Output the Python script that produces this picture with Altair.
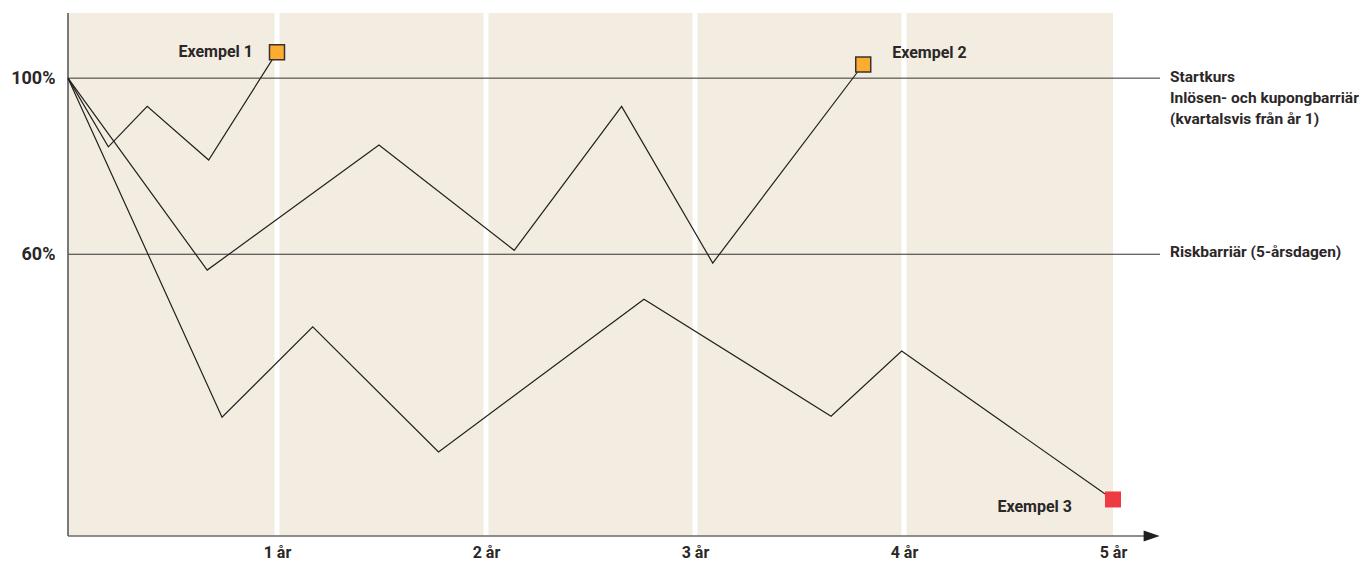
import altair as alt
import pandas as pd

# --- data -------------------------------------------------------------
ex1_t = [0.0, 0.193, 0.379, 0.673, 1.0]
ex1_v = [100.0, 84.4, 93.6, 81.4, 105.9]

ex2_t = [0.0, 0.666, 1.488, 2.135, 2.649, 3.085, 3.805]
ex2_v = [100.0, 56.4, 84.8, 60.9, 93.6, 58.0, 103.1]

ex3_t = [0.0, 0.737, 1.171, 1.773, 2.756, 3.651, 3.989, 5.0]
ex3_v = [100.0, 23.0, 43.5, 15.1, 49.8, 23.2, 38.0, 4.3]

years = [1, 2, 3, 4, 5]
barrier_levels = [100, 60]
y_tick_values = [60, 100]

X_MIN, X_MAX = 0.0, 5.225
Y_MIN, Y_MAX = -4.0, 114.8
BEIGE_END = 5.0

FONT = "Roboto"
TXT = "#2b2728"

lines_df = pd.DataFrame(
    [{"serie": "Exempel 1", "t": t, "v": v, "o": i} for i, (t, v) in enumerate(zip(ex1_t, ex1_v))]
    + [{"serie": "Exempel 2", "t": t, "v": v, "o": i} for i, (t, v) in enumerate(zip(ex2_t, ex2_v))]
    + [{"serie": "Exempel 3", "t": t, "v": v, "o": i} for i, (t, v) in enumerate(zip(ex3_t, ex3_v))]
)

xs = alt.Scale(domain=[X_MIN, X_MAX], nice=False, zero=False)
ys = alt.Scale(domain=[Y_MIN, Y_MAX], nice=False, zero=False)

# background beige
bg = alt.Chart(pd.DataFrame({"x0": [X_MIN], "x1": [BEIGE_END], "y0": [Y_MIN], "y1": [Y_MAX]})).mark_rect(
    color="#f2ede0"
).encode(
    x=alt.X("x0:Q", scale=xs,
            axis=alt.Axis(values=years, labelExpr="datum.value + ' år'", domain=False, ticks=False,
                          grid=False, title=None, labelFont=FONT, labelFontWeight="bold",
                          labelFontSize=16, labelColor=TXT, labelPadding=8)),
    x2="x1:Q",
    y=alt.Y("y0:Q", scale=ys,
            axis=alt.Axis(values=y_tick_values, labelExpr="datum.value + '%'", domain=False, ticks=False,
                          grid=False, title=None, labelFont=FONT, labelFontWeight="bold",
                          labelFontSize=18, labelColor=TXT, labelPadding=13)),
    y2="y1:Q",
)

# white year separators
seps = alt.Chart(pd.DataFrame({"t": years[:-1]})).mark_rule(color="white", strokeWidth=5).encode(
    x=alt.X("t:Q", scale=xs), y=alt.value(0), y2=alt.value(523)
)

# horizontal barrier lines
hl = alt.Chart(pd.DataFrame({"v": barrier_levels})).mark_rule(color="#333333", strokeWidth=1).encode(
    y=alt.Y("v:Q", scale=ys), x=alt.value(0), x2=alt.value(1092)
)

# axes lines
left_axis = alt.Chart(pd.DataFrame({"t": [X_MIN]})).mark_rule(color="#5a5a5a", strokeWidth=1.6).encode(
    x=alt.X("t:Q", scale=xs), y=alt.value(0), y2=alt.value(523)
)
bottom_axis = alt.Chart(pd.DataFrame({"a": [X_MIN], "b": [X_MAX - 0.06], "v": [Y_MIN]})).mark_rule(
    color="#6a6a6a", strokeWidth=1.6
).encode(x=alt.X("a:Q", scale=xs), x2="b:Q", y=alt.Y("v:Q", scale=ys))
arrow = alt.Chart(pd.DataFrame({"t": [X_MAX - 0.04], "v": [Y_MIN]})).mark_point(
    shape="M -1 -0.7 L 1 0 L -1 0.7 Z", size=256, filled=True, color="#231f20", opacity=1
).encode(x=alt.X("t:Q", scale=xs), y=alt.Y("v:Q", scale=ys))

# data lines
lines = alt.Chart(lines_df).mark_line(color="#231f20", strokeWidth=1.2).encode(
    x=alt.X("t:Q", scale=xs), y=alt.Y("v:Q", scale=ys), detail="serie:N", order="o:Q"
)

end1 = pd.DataFrame({"t": [ex1_t[-1], ex2_t[-1]], "v": [ex1_v[-1], ex2_v[-1]]})
sq_orange = alt.Chart(end1).mark_square(
    size=225, color="#fbad2f", stroke="#3a3230", strokeWidth=1.5, opacity=1, filled=True
).encode(x=alt.X("t:Q", scale=xs), y=alt.Y("v:Q", scale=ys))
sq_red = alt.Chart(pd.DataFrame({"t": [ex3_t[-1]], "v": [ex3_v[-1]]})).mark_square(
    size=256, color="#ee3b42", opacity=1, filled=True
).encode(x=alt.X("t:Q", scale=xs), y=alt.Y("v:Q", scale=ys))

def txt(t, v, label, align="left", dx=0, dy=0, size=16):
    return alt.Chart(pd.DataFrame({"t": [t], "v": [v], "label": [label]})).mark_text(
        align=align, baseline="middle", dx=dx, dy=dy, font=FONT, fontWeight="bold",
        fontSize=size, color=TXT
    ).encode(x=alt.X("t:Q", scale=xs), y=alt.Y("v:Q", scale=ys), text="label:N")

ex_labels = (
    txt(ex1_t[-1], ex1_v[-1], "Exempel 1", align="right", dx=-24)
    + txt(ex2_t[-1], ex2_v[-1], "Exempel 2", align="left", dx=29, dy=-12)
    + txt(ex3_t[-1], ex3_v[-1], "Exempel 3", align="right", dx=-41, dy=8)
)

right_labels = (
    txt(X_MAX, 100, "Startkurs", dx=10, dy=-1, size=15.5)
    + txt(X_MAX, 100, "Inlösen- och kupongbarriär", dx=10, dy=20, size=15.5)
    + txt(X_MAX, 100, "(kvartalsvis från år 1)", dx=10, dy=41, size=15.5)
    + txt(X_MAX, 60, "Riskbarriär (5-årsdagen)", dx=10, dy=-2, size=15.5)
)

chart = alt.layer(
    bg, seps, hl, left_axis, bottom_axis, arrow, lines, sq_orange, sq_red, ex_labels, right_labels
).properties(
    width=1092, height=523,
    background="white",
    autosize=alt.AutoSizeParams(type="none"),
    padding={"left": 60, "top": 5, "right": 203, "bottom": 25},
).configure_view(strokeWidth=0, stroke="transparent")

chart.save("out.html", embed_options={"renderer": "svg", "actions": False})
